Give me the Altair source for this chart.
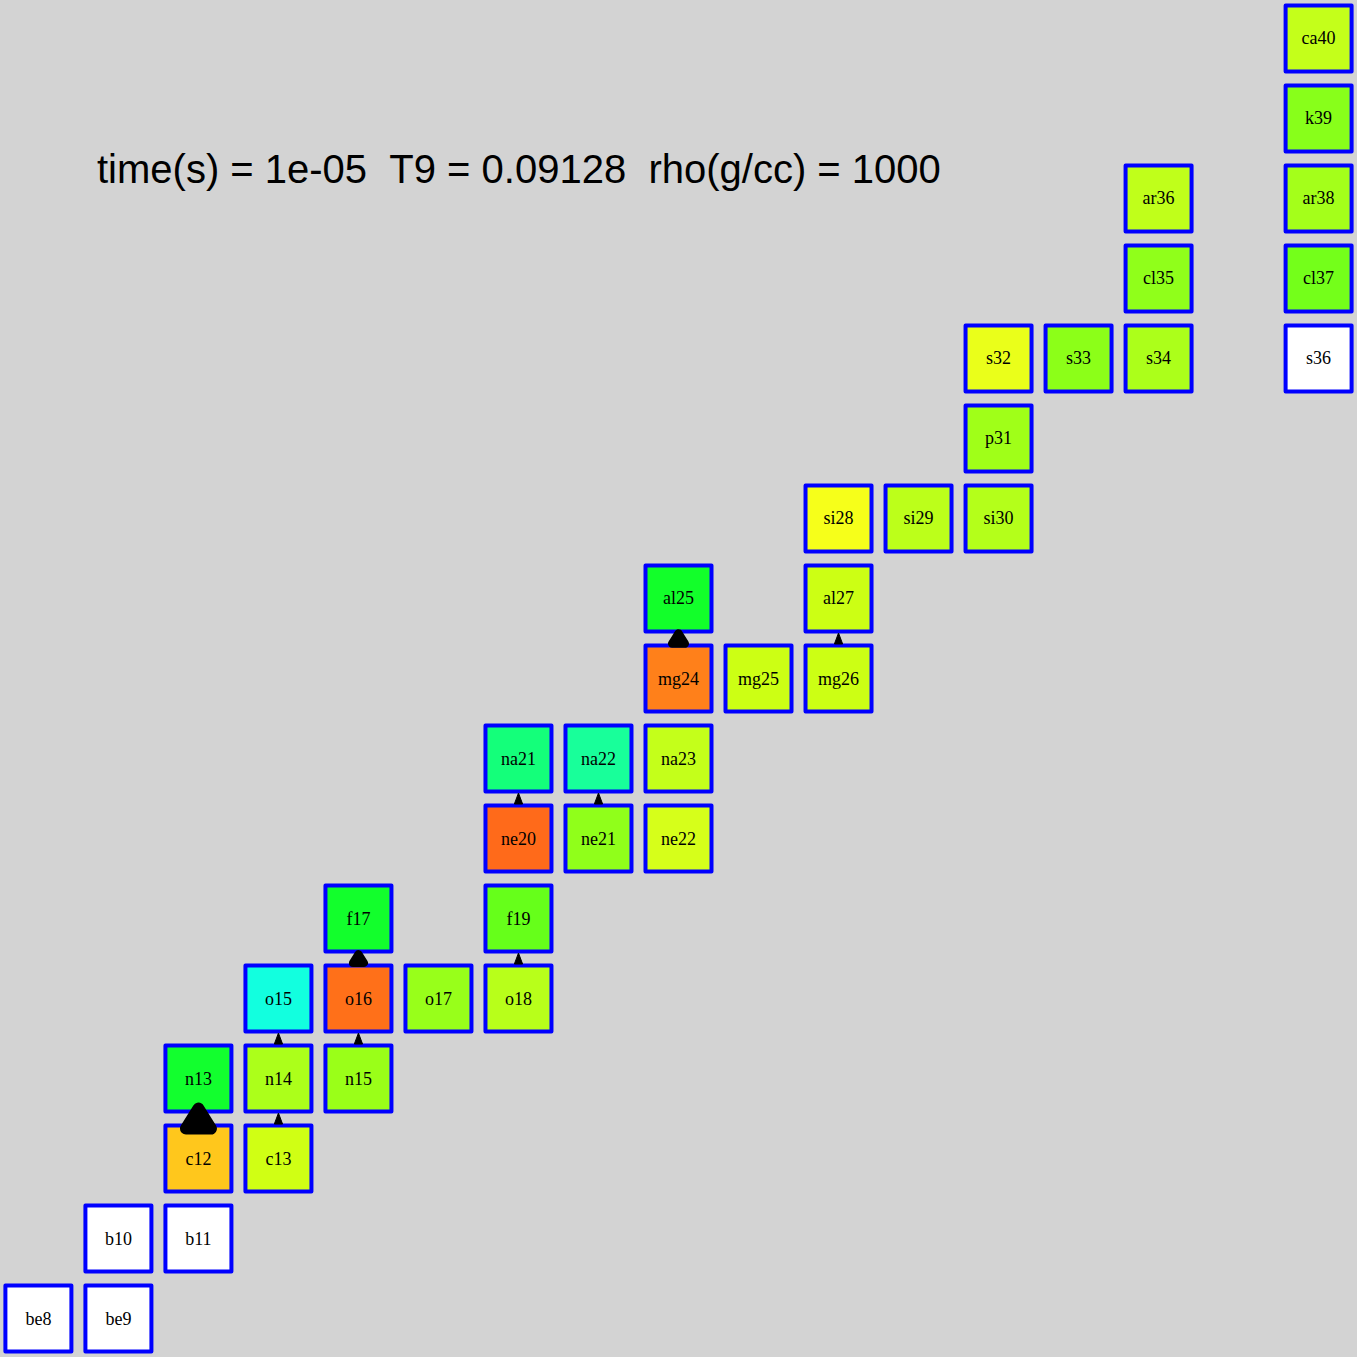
import altair as alt
import pandas as pd

# Nuclide chart data
names = ["be8", "be9", "b10", "b11", "c12", "c13", "n13", "n14", "n15",
         "o15", "o16", "o17", "o18", "f17", "f19", "ne20", "ne21", "ne22",
         "na21", "na22", "na23", "mg24", "mg25", "mg26", "al25", "al27",
         "si28", "si29", "si30", "p31", "s32", "s33", "s34", "s36",
         "cl35", "cl37", "ar36", "ar38", "k39", "ca40"]
Z = [4, 4, 5, 5, 6, 6, 7, 7, 7,
     8, 8, 8, 8, 9, 9, 10, 10, 10,
     11, 11, 11, 12, 12, 12, 13, 13,
     14, 14, 14, 15, 16, 16, 16, 16,
     17, 17, 18, 18, 19, 20]
N = [4, 5, 5, 6, 6, 7, 6, 7, 8,
     7, 8, 9, 10, 8, 10, 10, 11, 12,
     10, 11, 12, 12, 13, 14, 12, 14,
     14, 15, 16, 16, 16, 17, 18, 20,
     18, 20, 18, 20, 20, 20]
fills = ["#ffffff", "#ffffff", "#ffffff", "#ffffff", "#ffc71c", "#d0ff14", "#12ff2e", "#acff1a", "#9aff18",
         "#12ffdf", "#ff7019", "#98ff1a", "#b8ff1a", "#12ff2c", "#66ff1a", "#ff6a1a", "#90ff1a", "#d6ff1a",
         "#14ff7a", "#18ff9a", "#c4ff1a", "#ff801a", "#ccff14", "#ccff14", "#12ff2a", "#ccff14",
         "#f6ff1a", "#bcff1a", "#b4ff1a", "#a0ff18", "#eaff1a", "#8cff18", "#acff1a", "#ffffff",
         "#90ff1a", "#74ff1a", "#c0ff1a", "#a4ff1a", "#88ff1a", "#c4ff1a"]

# Reaction flows (proton captures): from nuclide (N, Z) to (N, Z+1)
flow_N = [6, 7, 7, 8, 8, 10, 10, 11, 12, 14]
flow_Z = [6, 6, 7, 7, 8, 8, 10, 10, 12, 12]
flow_strength = [12, 1, 1, 1, 6, 1, 1, 1, 6.5, 1]

title_text = "time(s) = 1e-05 \u00a0T9 = 0.09128 \u00a0rho(g/cc) = 1000"

nuc = pd.DataFrame({"name": names, "Z": Z, "N": N, "fill": fills})
flows = pd.DataFrame({"N": flow_N, "Zmid": [z + 0.5 for z in flow_Z], "flow": flow_strength})

xs = alt.Scale(domain=[3.52, 20.48], nice=False, zero=False)
ys = alt.Scale(domain=[3.52, 20.48], nice=False, zero=False)

base = alt.Chart(nuc).encode(
    x=alt.X("N:Q", scale=xs, axis=None),
    y=alt.Y("Z:Q", scale=ys, axis=None),
)

boxes = base.mark_square(size=4356, stroke="#0000ff", strokeWidth=4,
                         strokeJoin="round", opacity=1, fillOpacity=1).encode(
    fill=alt.Fill("fill:N", scale=None)
)

labels = base.mark_text(font="Liberation Serif", fontSize=18, color="black",
                        align="center", baseline="middle", dy=1).encode(text="name:N")

arrow_base = alt.Chart(flows).encode(
    x=alt.X("N:Q", scale=xs, axis=None),
    y=alt.Y("Zmid:Q", scale=ys, axis=None),
)

thin_arrows = arrow_base.transform_filter("datum.flow < 2").mark_point(
    shape="M0,-1L0.75,1L-0.75,1Z", size=121, filled=True, fill="black", stroke="black",
    strokeWidth=1, strokeJoin="round", opacity=1, fillOpacity=1
)

thick_arrows = arrow_base.transform_filter("datum.flow >= 2").mark_point(
    shape="M0,-0.8L1,0.8L-1,0.8Z", filled=True, fill="black", stroke="black",
    strokeJoin="round", opacity=1, fillOpacity=1
).encode(
    size=alt.Size("flow:Q", scale=alt.Scale(domain=[6, 12], range=[121, 625]), legend=None),
    strokeWidth=alt.StrokeWidth("flow:Q", scale=alt.Scale(domain=[6, 12], range=[8, 12]), legend=None),
)

title = alt.Chart(pd.DataFrame({"t": [title_text]})).mark_text(
    font="Liberation Sans", fontSize=40, color="black", align="left", baseline="alphabetic"
).encode(x=alt.value(97), y=alt.value(183), text="t:N")

chart = alt.layer(boxes, labels, thin_arrows, thick_arrows, title).properties(
    width=1357, height=1357, background="#d3d3d3", padding=0,
    autosize=alt.AutoSizeParams(type="none")
).configure_view(stroke=None)

chart.save("out.html", embed_options={"renderer": "svg", "actions": False})
